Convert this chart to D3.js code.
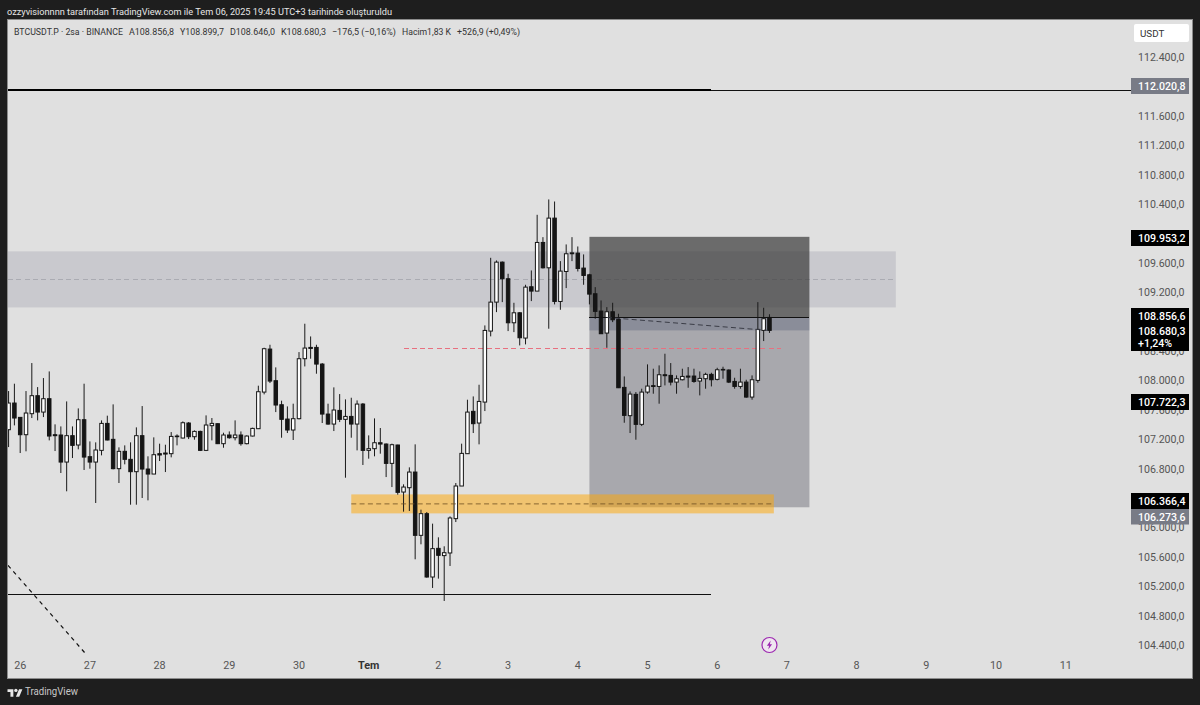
<!DOCTYPE html>
<html lang="tr">
<head>
<meta charset="utf-8">
<title>BTCUSDT.P 2sa</title>
<script src="https://cdn.jsdelivr.net/npm/d3@7"></script>
<style>
  html, body { margin: 0; padding: 0; background: #1e1e1e; }
  svg { display: block; }
  text { font-family: Roboto, "Noto Sans", sans-serif; }
</style>
</head>
<body>
<svg id="chart" width="1200" height="705"></svg>
<script>
// Two-hour candles, oldest first; the first bar opens on 25 June 20:00.
const firstBar = Date.UTC(2025, 5, 25, 20);
const opens = [107329,107692,107497,107261,107547,107792,107569,107751,107261,107257,
  106889,107248,107121,107465,106962,106889,107048,107415,107198,106799,
  107035,106926,106758,107248,106794,106726,107003,107012,107003,107234,
  107216,107420,107234,107306,107048,107384,107411,107139,107257,107220,
  107257,107139,107243,107343,107841,108426,107996,107669,107474,107325,
  107479,108295,108449,108449,108222,107542,107406,107592,107470,107510,
  107406,107678,107048,107071,107152,107134,106871,107121,106481,106540,
  106753,105892,106187,105325,105715,105616,105652,106119,106563,107003,
  107579,107420,107705,108671,109065,109609,109383,108784,108920,108576,
  109274,109215,109877,109532,110208,109074,109482,109723,109732,109528,
  109437,109179,108943,108644,108934,108830,107905,107520,107810,107402,
  107841,107928,107918,108077,108068,107977,108009,108059,108059,107991,
  108023,108082,108014,108141,108141,107986,107918,107977,107773,108000,
  108680,108856.8];
const highs = [107855,107955,107501,107855,108236,107909,108032,108122,107402,107374,
  107714,107374,107619,107955,107170,107157,107456,107520,107674,107089,
  107116,107157,107361,107651,106967,107225,107139,107125,107297,107266,
  107442,107433,107320,107316,107524,107488,107415,107288,107306,107456,
  107306,107252,107356,107928,108444,108485,108177,107724,107646,107683,
  108385,108771,108598,108485,108236,107683,107905,107814,107742,107764,
  107728,107692,107252,107483,107352,107143,107139,107125,106586,106817,
  107130,106241,106209,106051,105865,105743,106150,106604,107139,107737,
  107782,107941,108748,109668,109632,109618,109451,109056,108929,109301,
  109496,110253,109949,110462,110434,109623,109850,109949,109822,109714,
  109450,109269,109088,108997,109056,108907,108054,107850,107841,107887,
  108218,108159,108204,108363,108236,108068,108159,108181,108159,108122,
  108104,108104,108172,108186,108150,108036,108159,108009,108068,109065,
  108988,108899.7];
const lows = [107093,107388,107012,107035,107488,107456,107501,107184,107039,106740,
  106491,106944,107062,106781,106799,106332,106980,107184,106790,106604,
  106858,106309,106309,106400,106368,106726,106903,106753,106953,107116,
  107211,107202,107193,107039,107039,107184,107134,107084,107207,107184,
  107112,107130,107238,107338,107810,107964,107569,107220,107284,107189,
  107470,108190,108295,108091,107420,107397,107311,107433,106676,107220,
  107048,106849,106935,106967,107003,106685,106549,106445,106214,106223,
  105566,105770,105316,105176,105303,104999,105475,106073,106563,107003,
  107284,107130,107583,108599,108929,109065,108671,108657,108476,108490,
  109079,109215,109523,108703,109034,108961,109256,109623,109482,109301,
  109034,108839,108635,108444,108793,107896,107424,107284,107193,107379,
  107819,107819,107683,107932,107932,107819,108000,107900,107968,107796,
  107887,107918,108000,108023,107964,107887,107887,107764,107737,107968,
  108535,108646.0];
const closes = [107692,107488,107261,107556,107792,107569,107751,107243,107248,106889,
  107248,107116,107465,106957,106889,107053,107415,107189,106799,107035,
  106926,106758,107248,106794,106726,106989,106985,106998,107238,107243,
  107424,107234,107306,107048,107393,107415,107139,107257,107220,107257,
  107139,107243,107347,107846,108431,107991,107665,107470,107325,107479,
  108295,108440,108435,108222,107542,107406,107597,107470,107510,107406,
  107678,107048,107071,107152,107134,106871,107125,106477,106549,106753,
  105892,106187,105325,105711,105620,105656,106128,106563,107007,107569,
  107411,107714,108680,109065,109609,109383,108784,108920,108580,109269,
  109215,109877,109532,110208,109074,109487,109723,109736,109523,109428,
  109174,108939,108635,108934,108825,107900,107524,107814,107402,107841,
  107923,107918,108077,108064,107977,108023,108054,108045,107986,108027,
  108082,108009,108145,108150,107977,107918,107977,107773,108009,108694,
  108839,108680.3];

const priceTicks = [104400,104800,105200,105600,106000,106800,107200,107600,108000,
  108400,109200,109600,110400,110800,111200,111600,112400];
const dayTicks = [Date.UTC(2025,5,26),Date.UTC(2025,5,27),Date.UTC(2025,5,28),Date.UTC(2025,5,29),
  Date.UTC(2025,5,30),Date.UTC(2025,6,1),Date.UTC(2025,6,2),Date.UTC(2025,6,3),Date.UTC(2025,6,4),
  Date.UTC(2025,6,5),Date.UTC(2025,6,6),Date.UTC(2025,6,7),Date.UTC(2025,6,8),Date.UTC(2025,6,9),
  Date.UTC(2025,6,10),Date.UTC(2025,6,11)];

// Levels and zones drawn on top of the price series
const upperLevel = 111950;
const lowerLevel = 105083;
const targetPrice = 109953.2;
const entryPrice = 108856.6;
const lastPrice = 108680.3;
const stopPrice = 106273.6;
const supplyZone = [108993, 109374, 109755];
const demandZone = [106191, 106320, 106449];
const midLevel = 108435;

const levelEnd = Date.UTC(2025,6,5,22);
const supplyEnd = Date.UTC(2025,6,8,13,30);
const boxStart = Date.UTC(2025,6,4,4);
const boxEnd = Date.UTC(2025,6,7,7,45);
const midStart = Date.UTC(2025,6,1,12);
const midEnd = Date.UTC(2025,6,6,22);
const demandStart = Date.UTC(2025,5,30,18);
const demandEnd = Date.UTC(2025,6,6,19,30);
const driftStart = Date.UTC(2025,6,4,10);
const driftEnd = Date.UTC(2025,6,6,17,30);
const fallStart = [Date.UTC(2025,5,25,19,48), 105484];
const fallEnd = [Date.UTC(2025,5,26,23), 104260];

const titleText = "ozzyvisionnnn tarafından TradingView.com ile Tem 06, 2025 19:45 UTC+3 tarihinde oluşturuldu";
const legendParts = [
  ["BTCUSDT.P · 2sa · BINANCE", 14, 109],
  ["A108.856,8", 129, 45],
  ["Y108.899,7", 180, 44],
  ["D108.646,0", 230, 45],
  ["K108.680,3", 281, 45],
  ["−176,5 (−0,16%)", 332, 64],
  ["Hacim1,83 K", 402, 49],
  ["+526,9 (+0,49%)", 457, 63]
];

// Frame of the pane and of the two axes
const pane = { left: 8, top: 20, right: 1131, bottom: 678, edge: 1192 };

const x = d3.scaleUtc()
  .domain([Date.UTC(2025,5,29), Date.UTC(2025,6,7)])
  .range([229.3, 786.9]);
const y = d3.scaleLinear().domain([104400, 112400]).range([645, 57]);

const trLocale = d3.formatLocale({ decimal: ",", thousands: ".", grouping: [3], currency: ["", "$"] });
const fmtPrice = trLocale.format(",.1f");

const svg = d3.select("#chart");
svg.append("rect").attr("x", pane.left - .5).attr("y", pane.top - .5)
  .attr("width", pane.edge - pane.left + 1).attr("height", pane.bottom - pane.top + 1)
  .attr("fill", "#e0e0e0").attr("stroke", "#8c8c8c");

svg.append("defs").append("clipPath").attr("id", "paneClip").append("rect")
  .attr("x", pane.left).attr("y", pane.top)
  .attr("width", pane.right - pane.left).attr("height", pane.bottom - pane.top);

// Title and legend rows
svg.append("text").attr("x", 7).attr("y", 14.5).attr("fill", "#e6e6e6").attr("font-size", 9.6)
  .attr("textLength", 385).attr("lengthAdjust", "spacingAndGlyphs")
  .text(titleText);
svg.append("g").selectAll("text").data(legendParts).join("text")
  .attr("x", d => d[1]).attr("y", 35).attr("fill", "#333").attr("font-size", 9.2)
  .attr("textLength", d => d[2]).attr("lengthAdjust", "spacingAndGlyphs")
  .text(d => d[0]);

const plot = svg.append("g").attr("clip-path", "url(#paneClip)");

// Supply zone, with its dashed midline
plot.append("rect").attr("x", pane.left).attr("width", x(supplyEnd) - pane.left)
  .attr("y", y(supplyZone[2])).attr("height", y(supplyZone[0]) - y(supplyZone[2]))
  .attr("fill", "rgb(130,133,150)").attr("fill-opacity", .25);
plot.append("line").attr("x1", pane.left).attr("x2", x(supplyEnd))
  .attr("y1", y(supplyZone[1])).attr("y2", y(supplyZone[1]))
  .attr("stroke", "#aaabb2").attr("stroke-dasharray", "5 3.3").attr("shape-rendering", "crispEdges");

// Long/short position: target box, stop box and the running result
plot.append("rect").attr("x", x(boxStart)).attr("width", x(boxEnd) - x(boxStart))
  .attr("y", y(targetPrice)).attr("height", y(entryPrice) - y(targetPrice))
  .attr("fill", "rgb(57,57,57)").attr("fill-opacity", .7);
plot.append("rect").attr("x", x(boxStart)).attr("width", x(boxEnd) - x(boxStart))
  .attr("y", y(entryPrice)).attr("height", y(stopPrice) - y(entryPrice))
  .attr("fill", "rgb(100,100,110)").attr("fill-opacity", .45);
plot.append("rect").attr("x", x(boxStart)).attr("width", x(boxEnd) - x(boxStart))
  .attr("y", y(entryPrice)).attr("height", y(lastPrice) - y(entryPrice))
  .attr("fill", "rgb(70,80,110)").attr("fill-opacity", .3);

// Demand zone
plot.append("rect").attr("x", x(demandStart)).attr("width", x(demandEnd) - x(demandStart))
  .attr("y", y(demandZone[2])).attr("height", y(demandZone[0]) - y(demandZone[2]))
  .attr("fill", "rgb(255,165,0)").attr("fill-opacity", .5);

// Horizontal levels
plot.append("line").attr("x1", pane.left).attr("x2", x(levelEnd))
  .attr("y1", y(upperLevel)).attr("y2", y(upperLevel)).attr("stroke", "#000").attr("stroke-width", 2)
  .attr("shape-rendering", "crispEdges");
plot.append("line").attr("x1", x(levelEnd)).attr("x2", pane.right)
  .attr("y1", y(upperLevel)).attr("y2", y(upperLevel)).attr("stroke", "#111").attr("stroke-width", 1)
  .attr("shape-rendering", "crispEdges");
plot.append("line").attr("x1", pane.left).attr("x2", x(levelEnd))
  .attr("y1", y(lowerLevel)).attr("y2", y(lowerLevel)).attr("stroke", "#111")
  .attr("shape-rendering", "crispEdges");
plot.append("line").attr("x1", x(midStart)).attr("x2", x(midEnd))
  .attr("y1", y(midLevel)).attr("y2", y(midLevel))
  .attr("stroke", "#e8707f").attr("stroke-dasharray", "5 3.3").attr("shape-rendering", "crispEdges");

// Candles
const bars = opens.map((o, i) => ({
  t: firstBar + i * 2 * 3600 * 1000, o, h: highs[i], l: lows[i], c: closes[i]
}));
const candle = plot.append("g").selectAll("g").data(bars).join("g");
candle.append("line")
  .attr("x1", d => x(d.t)).attr("x2", d => x(d.t))
  .attr("y1", d => y(d.h)).attr("y2", d => y(d.l))
  .attr("stroke", "#1a1a1a");
candle.append("rect")
  .attr("x", d => x(d.t) - 1.75).attr("width", 3.5)
  .attr("y", d => y(Math.max(d.o, d.c)))
  .attr("height", d => Math.max(.6, Math.abs(y(d.o) - y(d.c))))
  .attr("fill", d => d.c >= d.o ? "#fff" : "#151515")
  .attr("stroke", "#151515");

// Drawings that sit above the candles
plot.append("line").attr("x1", x(boxStart)).attr("x2", x(boxEnd))
  .attr("y1", y(entryPrice)).attr("y2", y(entryPrice)).attr("stroke", "#111")
  .attr("shape-rendering", "crispEdges");
plot.append("line").attr("x1", x(demandStart)).attr("x2", x(demandEnd))
  .attr("y1", y(demandZone[1])).attr("y2", y(demandZone[1]))
  .attr("stroke", "#6f4f22").attr("stroke-opacity", .8).attr("stroke-dasharray", "5 3.3");
plot.append("line").attr("x1", x(driftStart)).attr("x2", x(driftEnd))
  .attr("y1", y(entryPrice)).attr("y2", y(lastPrice))
  .attr("stroke", "#3b3d47").attr("stroke-dasharray", "5 3.3");
plot.append("line").attr("x1", x(fallStart[0])).attr("x2", x(fallEnd[0]))
  .attr("y1", y(fallStart[1])).attr("y2", y(fallEnd[1]))
  .attr("stroke", "#111").attr("stroke-width", 1.2).attr("stroke-dasharray", "4 4");

// Price axis
const priceAxis = d3.axisRight(y).tickValues(priceTicks).tickSize(0).tickPadding(0).tickFormat(fmtPrice);
const priceG = svg.append("g").attr("transform", `translate(${pane.right + 7},0)`).call(priceAxis);
priceG.select(".domain").remove();
priceG.selectAll("text").attr("fill", "#555").attr("font-size", 10.6).style("font-family", "Roboto");

// Time axis, with the month start in bold
const dayLabel = t => {
  const d = new Date(t);
  return d.getUTCDate() === 1 ? "Tem" : String(d.getUTCDate());
};
const timeAxis = d3.axisBottom(x).tickValues(dayTicks).tickSize(0).tickPadding(0).tickFormat(dayLabel);
const timeG = svg.append("g").attr("transform", "translate(-0.5,661)").call(timeAxis);
timeG.select(".domain").remove();
timeG.selectAll("text").attr("font-size", 10.8).style("font-family", "Roboto")
  .attr("font-weight", d => new Date(d).getUTCDate() === 1 ? 700 : 400)
  .attr("fill", d => new Date(d).getUTCDate() === 1 ? "#333" : "#555");

// Price tags on the axis
const tags = [
  { value: 112020.8, top: 78, h: 16, fill: "#787b86" },
  { value: targetPrice, top: 230, h: 16, fill: "#000" },
  { value: 107722.3, top: 394, h: 16, fill: "#000" },
  { value: 106366.4, top: 493, h: 16, fill: "#000" },
  { value: stopPrice, top: 509, h: 15.5, fill: "#787b86" }
];
const tag = svg.append("g").selectAll("g").data(tags).join("g");
tag.append("rect").attr("x", pane.right).attr("width", 58)
  .attr("y", d => d.top).attr("height", d => d.h).attr("fill", d => d.fill);
tag.append("text").attr("x", pane.right + 7).attr("y", d => d.top + d.h / 2 + 4)
  .attr("fill", "#fff").attr("font-size", 10.6).attr("font-weight", 500).text(d => fmtPrice(d.value));

// Last-price tag: entry, close and change stacked in one black box
svg.append("rect").attr("x", pane.right).attr("y", 308).attr("width", 58).attr("height", 43).attr("fill", "#000");
svg.append("g").selectAll("text")
  .data([[fmtPrice(entryPrice), 320], [fmtPrice(lastPrice), 335], ["+1,24%", 347]])
  .join("text").attr("x", pane.right + 7).attr("y", d => d[1])
  .attr("fill", "#fff").attr("font-size", 10.6).attr("font-weight", 500).text(d => d[0]);

// Currency selector
svg.append("rect").attr("x", 1134).attr("y", 24).attr("width", 55).attr("height", 18).attr("rx", 2).attr("fill", "#fff");
svg.append("text").attr("x", 1140).attr("y", 37).attr("fill", "#333").attr("font-size", 9.8).text("USDT");

// Dividend/earnings style badge under the last bar
const badge = svg.append("g").attr("transform", `translate(${x(Date.UTC(2025,6,6,18))},645)`);
badge.append("circle").attr("r", 7.5).attr("fill", "#efe6f0").attr("stroke", "#9c27b0").attr("stroke-width", 1.2);
badge.append("path").attr("d", "M1.2 -4.5 L-2.6 0.8 H-0.4 L-1.2 4.5 L2.6 -0.8 H0.4 Z").attr("fill", "#9c27b0");

// Footer wordmark
const mark = svg.append("g").attr("transform", "translate(7.5,687.5) scale(.42)").attr("fill", "#e8e8e8");
mark.append("path").attr("d", "M14 22H7V11H0V4h14v18zM28 22h-8l7.5-18h8L28 22z");
mark.append("circle").attr("cx", 20).attr("cy", 7).attr("r", 4);
svg.append("text").attr("x", 25).attr("y", 695).attr("fill", "#c8c8c8").attr("font-size", 10.5)
  .attr("textLength", 53).attr("lengthAdjust", "spacingAndGlyphs").text("TradingView");
</script>
</body>
</html>
